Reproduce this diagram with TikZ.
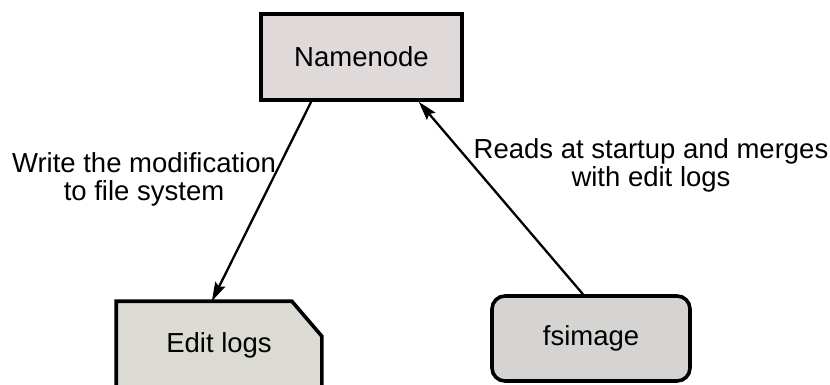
\documentclass[tikz,border=0pt]{standalone}
\usepackage{fontspec}
\setmainfont{Liberation Sans}
\usetikzlibrary{calc,arrows.meta}

\definecolor{nnfill}{HTML}{DFD9DA}
\definecolor{elfill}{HTML}{DCDBD3}
\definecolor{fsfill}{HTML}{D5D4D2}

\tikzset{
  box/.style={inner sep=0pt, line width=3.6pt, font=\fontsize{27.5}{28}\selectfont},
  lbl/.style={inner sep=0pt, align=center, anchor=north, font=\fontsize{27.5}{28}\selectfont},
  arr/.style={line width=2.3pt, -{Stealth[length=19pt,width=11pt,inset=3pt]}},
}

\begin{document}
\begin{tikzpicture}[x=1pt,y=-1pt]
  \useasboundingbox (0,0) rectangle (830,385);
  \fill[white] (0,0) rectangle (830,385);
  \clip (0,0) rectangle (830,385);

  % main node
  \node[box, draw, fill=nnfill, minimum width=201pt, minimum height=86pt]
    (namenode) at (361.5,57) {Namenode};

  % edit log file: box with a cut top-right corner, running off the bottom edge
  \node[box, minimum width=202pt, minimum height=84pt] (editlogs) at (219,345) {};
  \filldraw[line width=3.6pt, fill=elfill, line join=miter]
    (editlogs.north west)
    -- ($(editlogs.north east)+(-30,0)$)
    -- ($(editlogs.north east)+(0,35)$)
    -- ($(editlogs.south east)+(0,8)$)
    -- ($(editlogs.south west)+(0,8)$)
    -- cycle;
  \node[box] at (editlogs.center) {Edit logs};

  % fsimage file
  \node[box, draw, fill=fsfill, rounded corners=13pt, minimum width=198pt, minimum height=85pt]
    (fsimage) at (591,338.5) {fsimage};

  % connectors
  \draw[arr] ($(namenode.south west)!0.254!(namenode.south east)$)
          -- ($(editlogs.north west)!0.465!(editlogs.north east)$);
  \draw[arr] ($(fsimage.north west)!0.46!(fsimage.north east)$)
          -- ($(namenode.south west)!0.78!(namenode.south east)$);

  % connector labels
  \node[lbl] (writelbl) at (144,152) {Write the modification\\to file system};
  \node[lbl] (readlbl) at (651,138) {Reads at startup and merges\\with edit logs};
\end{tikzpicture}
\end{document}
